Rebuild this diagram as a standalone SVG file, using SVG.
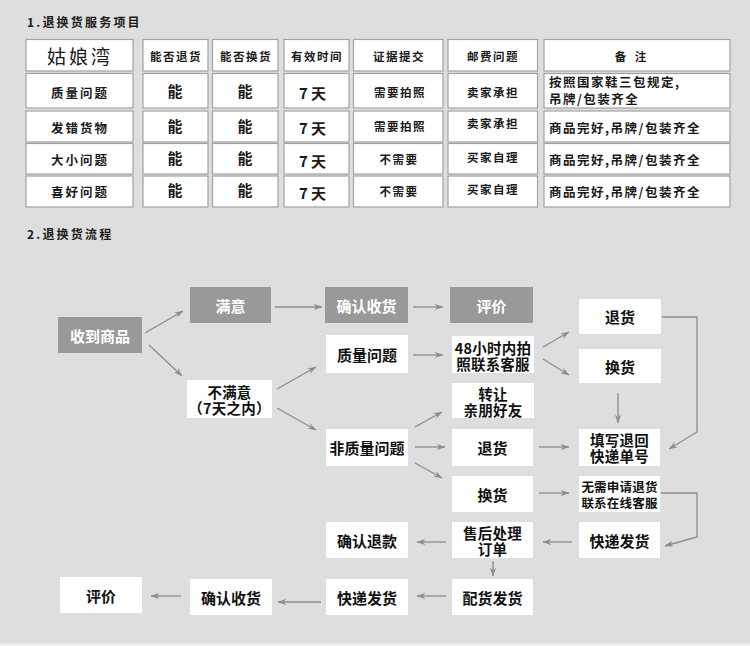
<svg xmlns="http://www.w3.org/2000/svg" width="750" height="646" viewBox="0 0 750 646">
<defs>
<style>
.bg{fill:#dedede}
.cell rect{fill:#ffffff;stroke:#a2a2a2;stroke-width:1.2}
.th{font-family:"Noto Sans CJK SC","Noto Sans",sans-serif;font-weight:700;font-size:11.5px;letter-spacing:1.5px;fill:#1a1a1a;text-anchor:middle;dominant-baseline:central}
.tr{font-family:"Noto Sans CJK SC","Noto Sans",sans-serif;font-weight:700;font-size:12.5px;letter-spacing:2px;fill:#1a1a1a;text-anchor:middle;dominant-baseline:central}
.tb{font-family:"Noto Sans CJK SC","Noto Sans",sans-serif;font-weight:700;font-size:15px;letter-spacing:2px;fill:#1a1a1a;text-anchor:middle;dominant-baseline:central}
.tn{font-family:"Noto Sans CJK SC","Noto Sans",sans-serif;font-weight:700;font-size:12.5px;letter-spacing:1.5px;fill:#1a1a1a;dominant-baseline:central}
.title{font-family:"Noto Sans CJK SC","Noto Sans",sans-serif;font-weight:700;font-size:12px;letter-spacing:2.2px;fill:#1a1a1a}
.nw rect{fill:#ffffff}
.ng rect{fill:#999999}
.ft{font-family:"Noto Sans CJK SC","Noto Sans",sans-serif;font-weight:700;font-size:15px;fill:#111111;text-anchor:middle;dominant-baseline:central}
.ng .ft{fill:#ffffff}
.f2{font-size:14.5px;letter-spacing:0.2px}
.fs{font-size:12.5px;letter-spacing:0.2px}
.conn path{fill:none;stroke:#8c8c8c;stroke-width:1.3;marker-end:url(#ah)}
</style>
<marker id="ah" viewBox="0 0 10 8" refX="9.5" refY="4" markerWidth="9" markerHeight="7" orient="auto" markerUnits="userSpaceOnUse">
<path d="M0,0.5 L10,4 L0,7.5 L3,4 z" fill="#8c8c8c"/>
</marker>
</defs>
<rect class="bg" x="0" y="0" width="750" height="646"/>
<rect x="0" y="643.5" width="750" height="2.5" fill="#eeeeee"/>

<text class="title" x="27" y="27">1.退换货服务项目</text>

<g id="table">
<g id="r1" class="cell">
<rect x="26" y="39.5" width="107" height="31.5"/>
<rect x="143" y="39.5" width="65" height="31.5"/>
<rect x="212.5" y="39.5" width="65.5" height="31.5"/>
<rect x="284" y="39.5" width="65" height="31.5"/>
<rect x="353.5" y="39.5" width="89.5" height="31.5"/>
<rect x="448" y="39.5" width="89.5" height="31.5"/>
<rect x="544" y="39.5" width="186" height="31.5"/>
<text x="80" y="55.5" style="font-family:'Noto Sans CJK SC',sans-serif;font-size:19px;letter-spacing:3px;fill:#1a1a1a;text-anchor:middle;dominant-baseline:central">姑娘湾</text>
<text class="th" x="176" y="56">能否退货</text>
<text class="th" x="246" y="56">能否换货</text>
<text class="th" x="317" y="56">有效时间</text>
<text class="th" x="399" y="56">证据提交</text>
<text class="th" x="493" y="56">邮费问题</text>
<text class="th" x="632" y="56" style="letter-spacing:3px">备 注</text>
</g>
<g id="r2" class="cell">
<rect x="26" y="73.5" width="107" height="34.5"/>
<rect x="143" y="73.5" width="65" height="34.5"/>
<rect x="212.5" y="73.5" width="65.5" height="34.5"/>
<rect x="284" y="73.5" width="65" height="34.5"/>
<rect x="353.5" y="73.5" width="89.5" height="34.5"/>
<rect x="448" y="73.5" width="89.5" height="34.5"/>
<rect x="544" y="73.5" width="186" height="34.5"/>
<text class="tr" x="80" y="92">质量问题</text>
<text class="tb" x="176" y="90">能</text>
<text class="tb" x="246" y="90">能</text>
<text class="tb" x="314" y="92" style="letter-spacing:3px">7天</text>
<text class="th" x="400" y="92">需要拍照</text>
<text class="th" x="493" y="92">卖家承担</text>
<text class="tn" x="549" y="81">按照国家鞋三包规定,<tspan x="549" dy="17">吊牌/包装齐全</tspan></text>
</g>
<g id="r3" class="cell">
<rect x="26" y="111" width="107" height="31"/>
<rect x="143" y="111" width="65" height="31"/>
<rect x="212.5" y="111" width="65.5" height="31"/>
<rect x="284" y="111" width="65" height="31"/>
<rect x="353.5" y="111" width="89.5" height="31"/>
<rect x="448" y="111" width="89.5" height="31"/>
<rect x="544" y="111" width="186" height="31"/>
<text class="tr" x="80" y="127">发错货物</text>
<text class="tb" x="176" y="125">能</text>
<text class="tb" x="246" y="125">能</text>
<text class="tb" x="314" y="127" style="letter-spacing:3px">7天</text>
<text class="th" x="400" y="126">需要拍照</text>
<text class="th" x="493" y="123">卖家承担</text>
<text class="tn" x="549" y="127">商品完好,吊牌/包装齐全</text>
</g>
<g id="r4" class="cell">
<rect x="26" y="143.5" width="107" height="30.5"/>
<rect x="143" y="143.5" width="65" height="30.5"/>
<rect x="212.5" y="143.5" width="65.5" height="30.5"/>
<rect x="284" y="143.5" width="65" height="30.5"/>
<rect x="353.5" y="143.5" width="89.5" height="30.5"/>
<rect x="448" y="143.5" width="89.5" height="30.5"/>
<rect x="544" y="143.5" width="186" height="30.5"/>
<text class="tr" x="80" y="159">大小问题</text>
<text class="tb" x="176" y="157">能</text>
<text class="tb" x="246" y="157">能</text>
<text class="tb" x="314" y="160" style="letter-spacing:3px">7天</text>
<text class="th" x="399" y="159">不需要</text>
<text class="th" x="493" y="157">买家自理</text>
<text class="tn" x="549" y="159">商品完好,吊牌/包装齐全</text>
</g>
<g id="r5" class="cell">
<rect x="26" y="176" width="107" height="31"/>
<rect x="143" y="176" width="65" height="31"/>
<rect x="212.5" y="176" width="65.5" height="31"/>
<rect x="284" y="176" width="65" height="31"/>
<rect x="353.5" y="176" width="89.5" height="31"/>
<rect x="448" y="176" width="89.5" height="31"/>
<rect x="544" y="176" width="186" height="31"/>
<text class="tr" x="80" y="191">喜好问题</text>
<text class="tb" x="176" y="189">能</text>
<text class="tb" x="246" y="189">能</text>
<text class="tb" x="314" y="192" style="letter-spacing:3px">7天</text>
<text class="th" x="399" y="191">不需要</text>
<text class="th" x="493" y="189">买家自理</text>
<text class="tn" x="549" y="191">商品完好,吊牌/包装齐全</text>
</g>
</g>

<text class="title" x="27" y="239">2.退换货流程</text>

<g id="connectors" class="conn">
<path d="M145,333 L183,311"/>
<path d="M149,345 L182,376"/>
<path d="M275,307 L322,307"/>
<path d="M413,307 L443,307"/>
<path d="M277,389 L316,367"/>
<path d="M277,408 L316,430"/>
<path d="M413,355 L443,355"/>
<path d="M543,347 L569,332"/>
<path d="M543,359 L569,375"/>
<path d="M618,393 L618,423"/>
<path d="M662,317 L697,317 L697,432 L669,449"/>
<path d="M415,427 L442,412"/>
<path d="M415,447 L445,447"/>
<path d="M415,463 L442,478"/>
<path d="M539,447 L569,447"/>
<path d="M539,493 L569,493"/>
<path d="M661,493 L697,493 L697,537 L665,546"/>
<path d="M572,542 L543,542"/>
<path d="M446,542 L417,542"/>
<path d="M493,561 L493,576"/>
<path d="M446,596 L417,596"/>
<path d="M321,602 L278,602"/>
<path d="M181,596 L151,596"/>
</g>

<g id="n-receive" class="ng"><rect x="58" y="317" width="84" height="36"/><text class="ft" x="100" y="335">收到商品</text></g>
<g id="n-satisfied" class="ng"><rect x="190" y="287" width="81" height="36"/><text class="ft" x="230.5" y="305">满意</text></g>
<g id="n-confirm1" class="ng"><rect x="325" y="287" width="83" height="36"/><text class="ft" x="366.5" y="305">确认收货</text></g>
<g id="n-review1" class="ng"><rect x="450" y="287" width="83" height="36"/><text class="ft" x="491.5" y="305">评价</text></g>

<g id="n-unsatisfied" class="nw"><rect x="187" y="380" width="85" height="38"/><text class="ft f2" x="229.5" y="391.5">不满意<tspan x="229.5" dy="15.5">（7天之内）</tspan></text></g>
<g id="n-quality" class="nw"><rect x="326" y="335" width="82" height="38"/><text class="ft" x="367" y="354">质量问题</text></g>
<g id="n-48h" class="nw"><rect x="452" y="336" width="82" height="37"/><text class="ft f2" x="493" y="347">48小时内拍<tspan x="493" dy="15.5">照联系客服</tspan></text></g>
<g id="n-return1" class="nw"><rect x="579" y="299" width="82" height="35"/><text class="ft" x="620" y="316.5">退货</text></g>
<g id="n-exchange1" class="nw"><rect x="579" y="349" width="82" height="34"/><text class="ft" x="620" y="366">换货</text></g>
<g id="n-transfer" class="nw"><rect x="452" y="383" width="82" height="35"/><text class="ft f2" x="493" y="393">转让<tspan x="493" dy="15.5">亲朋好友</tspan></text></g>
<g id="n-nonquality" class="nw"><rect x="326" y="429" width="82" height="37"/><text class="ft" x="367" y="447.5">非质量问题</text></g>
<g id="n-return2" class="nw"><rect x="452" y="429" width="81" height="37"/><text class="ft" x="492.5" y="447.5">退货</text></g>
<g id="n-fillno" class="nw"><rect x="579" y="429" width="81" height="37"/><text class="ft f2" x="619.5" y="439.5">填写退回<tspan x="619.5" dy="15.5">快递单号</tspan></text></g>
<g id="n-exchange2" class="nw"><rect x="452" y="476" width="81" height="36"/><text class="ft" x="492.5" y="494">换货</text></g>
<g id="n-nocs" class="nw"><rect x="579" y="476" width="81" height="36"/><text class="ft fs" x="619.5" y="486.5">无需申请退货<tspan x="619.5" dy="15">联系在线客服</tspan></text></g>
<g id="n-process" class="nw"><rect x="452" y="522" width="81" height="36"/><text class="ft f2" x="492.5" y="532.5">售后处理<tspan x="492.5" dy="15.5">订单</tspan></text></g>
<g id="n-ship1" class="nw"><rect x="579" y="522" width="81" height="36"/><text class="ft" x="619.5" y="540">快递发货</text></g>
<g id="n-refund" class="nw"><rect x="326" y="522" width="82" height="36"/><text class="ft" x="367" y="540">确认退款</text></g>
<g id="n-pick" class="nw"><rect x="452" y="579" width="81" height="36"/><text class="ft" x="492.5" y="597">配货发货</text></g>
<g id="n-ship2" class="nw"><rect x="326" y="579" width="82" height="36"/><text class="ft" x="367" y="597">快递发货</text></g>
<g id="n-confirm2" class="nw"><rect x="190" y="579" width="82" height="36"/><text class="ft" x="231" y="597">确认收货</text></g>
<g id="n-review2" class="nw"><rect x="60" y="577" width="82" height="36"/><text class="ft" x="101" y="595">评价</text></g>
</svg>
